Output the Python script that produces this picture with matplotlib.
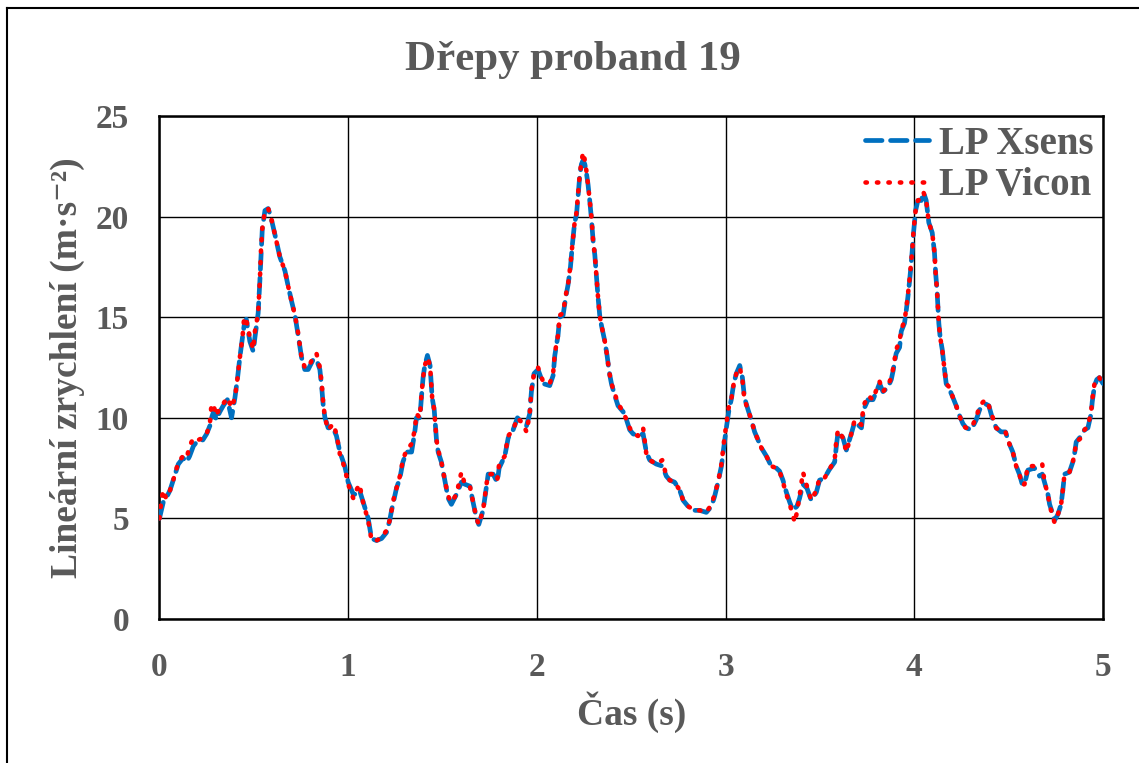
import matplotlib
matplotlib.use('Agg')
import matplotlib.pyplot as plt
from matplotlib.lines import Line2D

plt.rcParams['font.family'] = ['Liberation Serif', 'DejaVu Serif']
plt.rcParams['font.weight'] = 'bold'
plt.rcParams['axes.labelweight'] = 'bold'

# time (s)
t = [0.000, 0.010, 0.020, 0.035, 0.056, 0.073, 0.100, 0.125, 0.144, 0.160,
     0.180, 0.206, 0.230, 0.250, 0.267, 0.276, 0.290, 0.300, 0.320, 0.338,
     0.360, 0.382, 0.400, 0.414, 0.426, 0.440, 0.449, 0.460, 0.479, 0.497,
     0.506, 0.523, 0.532, 0.538, 0.545, 0.559, 0.576, 0.590, 0.612, 0.638,
     0.665, 0.683, 0.700, 0.718, 0.735, 0.753, 0.770, 0.788, 0.815, 0.832,
     0.850, 0.860, 0.868, 0.877, 0.894, 0.920, 0.938, 0.956, 0.982, 1.000,
     1.027, 1.035, 1.060, 1.080, 1.106, 1.115, 1.124, 1.150, 1.177, 1.203,
     1.220, 1.230, 1.244, 1.256, 1.274, 1.290, 1.309, 1.336, 1.353, 1.362,
     1.380, 1.388, 1.397, 1.406, 1.420, 1.434, 1.445, 1.456, 1.468, 1.477,
     1.494, 1.512, 1.530, 1.547, 1.574, 1.600, 1.618, 1.645, 1.662, 1.680,
     1.692, 1.715, 1.733, 1.742, 1.768, 1.790, 1.800, 1.830, 1.848, 1.874,
     1.897, 1.927, 1.945, 1.962, 1.971, 1.985, 2.006, 2.033, 2.068, 2.086,
     2.095, 2.112, 2.121, 2.139, 2.153, 2.165, 2.178, 2.188, 2.200, 2.210,
     2.218, 2.227, 2.236, 2.245, 2.254, 2.262, 2.271, 2.280, 2.289, 2.298,
     2.307, 2.315, 2.324, 2.333, 2.342, 2.360, 2.372, 2.383, 2.395, 2.413,
     2.430, 2.457, 2.475, 2.492, 2.510, 2.536, 2.563, 2.580, 2.598, 2.633,
     2.665, 2.686, 2.704, 2.730, 2.757, 2.775, 2.801, 2.836, 2.863, 2.898,
     2.925, 2.942, 2.960, 2.978, 2.990, 3.004, 3.018, 3.030, 3.043, 3.057,
     3.075, 3.089, 3.100, 3.119, 3.136, 3.154, 3.172, 3.190, 3.216, 3.242,
     3.269, 3.286, 3.304, 3.322, 3.340, 3.357, 3.366, 3.378, 3.392, 3.410,
     3.431, 3.454, 3.481, 3.498, 3.524, 3.548, 3.578, 3.587, 3.596, 3.622,
     3.640, 3.666, 3.684, 3.720, 3.731, 3.755, 3.781, 3.799, 3.816, 3.834,
     3.860, 3.878, 3.887, 3.896, 3.904, 3.922, 3.931, 3.948, 3.957, 3.966,
     3.975, 3.980, 3.989, 3.996, 4.007, 4.019, 4.037, 4.049, 4.063, 4.077,
     4.095, 4.107, 4.113, 4.120, 4.125, 4.130, 4.137, 4.148, 4.160, 4.169,
     4.187, 4.205, 4.222, 4.240, 4.258, 4.275, 4.302, 4.328, 4.346, 4.376,
     4.395, 4.413, 4.434, 4.460, 4.483, 4.504, 4.522, 4.540, 4.557, 4.572,
     4.584, 4.602, 4.637, 4.664, 4.678, 4.690, 4.708, 4.717, 4.731, 4.743,
     4.761, 4.778, 4.787, 4.796, 4.822, 4.840, 4.849, 4.858, 4.884, 4.902,
     4.920, 4.937, 4.943, 4.955, 4.967, 4.981, 5.000]

# linear acceleration, Xsens
xsens = [5.0, 5.4, 5.8, 6.0, 6.4, 6.9, 7.7, 8.0, 7.8, 8.1,
         8.6, 8.9, 8.9, 9.2, 9.6, 10.0, 10.4, 9.9, 10.3, 10.6,
         10.9, 10.0, 11.0, 12.0, 13.0, 14.0, 14.6, 14.9, 13.8, 13.3,
         14.0, 15.2, 16.8, 18.0, 19.4, 20.3, 20.4, 20.0, 19.1, 18.0,
         17.3, 16.5, 15.8, 15.1, 14.1, 13.0, 12.4, 12.4, 12.9, 12.9,
         12.4, 11.5, 10.6, 10.0, 9.5, 9.5, 9.1, 8.3, 7.6, 6.8,
         6.2, 6.2, 6.4, 5.8, 5.0, 4.5, 4.0, 3.9, 4.0, 4.3,
         4.9, 5.4, 6.0, 6.5, 7.0, 7.8, 8.3, 8.3, 9.3, 10.0,
         10.0, 11.0, 12.0, 12.6, 13.1, 12.6, 11.0, 10.4, 8.9, 8.3,
         7.8, 6.9, 6.0, 5.7, 6.2, 6.8, 6.7, 6.6, 5.8, 5.0,
         4.7, 5.4, 6.6, 7.2, 7.2, 6.8, 7.5, 8.1, 9.0, 9.4,
         10.0, 9.7, 9.6, 10.2, 11.3, 12.2, 12.4, 11.7, 11.6, 12.1,
         13.1, 14.1, 15.0, 15.1, 16.0, 16.6, 17.5, 18.6, 19.7, 20.1,
         21.0, 22.0, 22.6, 22.8, 22.6, 22.2, 21.6, 20.8, 19.9, 18.8,
         18.1, 17.1, 16.0, 15.1, 14.6, 13.8, 13.1, 12.3, 11.7, 11.1,
         10.6, 10.3, 9.9, 9.4, 9.2, 9.1, 9.2, 8.3, 7.9, 7.7,
         7.6, 7.1, 6.9, 6.8, 6.4, 5.9, 5.6, 5.4, 5.4, 5.3,
         5.6, 6.1, 6.8, 7.6, 8.5, 9.5, 10.4, 10.9, 11.7, 12.2,
         12.6, 12.0, 11.0, 10.4, 9.9, 9.3, 8.9, 8.5, 8.1, 7.6,
         7.5, 7.35, 6.9, 6.3, 5.8, 5.4, 5.5, 5.6, 6.0, 6.7,
         6.5, 5.9, 6.3, 6.9, 7.0, 7.4, 7.8, 8.6, 9.3, 9.0,
         8.4, 9.2, 9.8, 9.5, 10.4, 10.9, 10.9, 11.3, 11.7, 11.3,
         11.5, 11.9, 12.3, 12.8, 13.2, 13.5, 14.3, 14.7, 15.3, 16.0,
         16.8, 17.3, 18.3, 19.2, 20.3, 20.8, 20.8, 21.2, 20.8, 19.7,
         19.2, 18.2, 17.2, 16.4, 15.5, 14.7, 14.0, 13.4, 12.4, 11.7,
         11.4, 11.0, 10.6, 10.1, 9.7, 9.5, 9.4, 9.9, 10.4, 10.7,
         10.6, 10.0, 9.5, 9.3, 9.3, 8.7, 8.3, 7.6, 7.2, 6.7,
         6.7, 7.4, 7.5, 7.1, 7.2, 6.8, 6.2, 5.7, 5.3, 4.9,
         5.2, 5.7, 6.4, 7.2, 7.3, 7.8, 8.2, 8.8, 9.1, 9.4,
         9.5, 10.2, 10.8, 11.6, 11.9, 12.0, 11.7]

# linear acceleration, Vicon
vicon = [5.0, 5.9, 6.4, 6.0, 6.4, 6.9, 7.8, 8.1, 8.0, 8.6,
         9.0, 8.9, 9.0, 9.2, 9.7, 10.7, 10.5, 10.1, 10.5, 10.7,
         11.0, 10.5, 11.0, 12.0, 13.0, 14.0, 15.0, 14.9, 14.0, 13.4,
         14.3, 15.2, 16.8, 18.3, 19.4, 20.3, 20.4, 20.0, 19.1, 18.0,
         17.3, 16.5, 15.8, 15.1, 14.2, 13.0, 12.5, 12.5, 13.0, 13.2,
         12.5, 11.7, 10.7, 10.0, 9.4, 9.7, 9.2, 8.2, 7.5, 6.7,
         6.0, 6.25, 6.7, 5.75, 4.9, 4.4, 3.9, 3.9, 4.05, 4.4,
         4.9, 5.4, 6.1, 6.5, 7.1, 7.9, 8.4, 8.7, 9.4, 10.2,
         10.0, 11.1, 12.0, 12.6, 13.0, 12.6, 11.0, 10.4, 8.9, 8.4,
         7.8, 6.9, 6.1, 5.8, 6.2, 7.3, 6.7, 6.6, 5.8, 5.0,
         4.7, 5.4, 6.7, 7.2, 7.2, 6.9, 7.7, 8.1, 9.1, 9.4,
         10.0, 9.7, 9.3, 10.2, 11.4, 12.2, 12.5, 11.8, 11.7, 12.2,
         13.2, 14.1, 15.1, 15.2, 16.1, 16.6, 17.6, 18.6, 19.7, 20.2,
         21.1, 22.1, 22.7, 23.2, 22.8, 22.3, 21.6, 20.8, 20.0, 18.8,
         18.1, 17.1, 16.0, 15.1, 14.6, 13.8, 13.1, 12.3, 11.7, 11.2,
         10.7, 10.3, 9.9, 9.5, 9.2, 9.1, 9.5, 8.2, 7.9, 7.7,
         7.9, 7.1, 6.9, 6.8, 6.4, 5.9, 5.6, 5.4, 5.4, 5.3,
         5.7, 6.2, 6.8, 7.7, 8.7, 9.7, 10.6, 10.9, 11.7, 12.2,
         12.5, 11.9, 10.9, 10.4, 9.9, 9.3, 8.9, 8.5, 8.1, 7.6,
         7.5, 7.35, 6.8, 6.2, 5.7, 5.15, 4.8, 5.3, 6.1, 7.3,
         6.6, 5.9, 6.4, 7.0, 7.0, 7.4, 7.9, 8.9, 9.4, 9.0,
         8.3, 9.2, 9.9, 9.65, 10.6, 11.1, 10.9, 11.4, 11.8, 11.3,
         11.6, 12.0, 12.4, 12.9, 13.4, 13.8, 14.4, 14.8, 15.4, 16.1,
         16.9, 17.4, 18.3, 19.3, 20.3, 20.8, 20.9, 21.2, 20.8, 19.7,
         19.2, 18.2, 17.2, 16.4, 15.5, 14.7, 14.0, 13.4, 12.4, 11.7,
         11.5, 11.0, 10.6, 10.1, 9.6, 9.5, 9.5, 10.0, 10.6, 10.9,
         10.6, 10.1, 9.5, 9.3, 9.3, 8.7, 8.3, 7.6, 7.2, 6.65,
         6.7, 7.6, 7.6, 7.6, 7.7, 6.8, 6.2, 5.65, 5.2, 4.8,
         5.2, 5.7, 6.4, 7.2, 7.3, 7.8, 8.2, 8.8, 9.0, 9.4,
         9.6, 10.3, 10.9, 11.7, 12.0, 12.0, 11.6]

text_color = '#595959'

fig = plt.figure(figsize=(11.39, 7.63), dpi=100)
ax = fig.add_axes([0.140, 0.1887, 0.8284, 0.6593])

ax.plot(t, xsens, color='#0070C0', linewidth=3.4, linestyle=(0, (3.5, 1.8)),
        dash_capstyle='round', label='LP Xsens', zorder=3)
ax.plot(t, vicon, color='#FF0000', linewidth=3.3, linestyle=(0, (0.3, 2.2)),
        dash_capstyle='round', label='LP Vicon', zorder=4)

ax.set_xlim(0, 5)
ax.set_ylim(0, 25)
ax.set_xticks([0, 1, 2, 3, 4, 5])
ax.set_yticks([0, 5, 10, 15, 20, 25])
ax.grid(True, color='black', linewidth=1.0)
ax.set_axisbelow(True)
ax.tick_params(length=0, labelsize=24, labelcolor=text_color)
ax.tick_params(axis='x', pad=24)
ax.tick_params(axis='y', pad=22)
for s in ax.spines.values():
    s.set_linewidth(1.8)
    s.set_color('black')

ax.set_xlabel('Čas (s)', fontsize=27, color=text_color, labelpad=6,
              fontweight='bold')
ax.set_ylabel('Lineární zrychlení (m·s⁻²)', fontsize=27, color=text_color,
              labelpad=8, fontweight='bold')
fig.text(0.503, 0.922, 'Dřepy proband 19', ha='center', va='center',
         fontsize=31, color=text_color, fontweight='bold')

leg = ax.legend(loc='upper right', frameon=False, fontsize=28,
                handlelength=1.65, handletextpad=0.25, labelspacing=0.12,
                borderaxespad=0.15, borderpad=0.1)
for txt in leg.get_texts():
    txt.set_color(text_color)

# outer frame
fig.add_artist(Line2D([0.0065, 0.0065], [0, 0.99], color='black', linewidth=1.5,
                      transform=fig.transFigure))
fig.add_artist(Line2D([0.0065, 1.0], [0.99, 0.99], color='black', linewidth=1.5,
                      transform=fig.transFigure))

fig.savefig('out.png', dpi=100)
